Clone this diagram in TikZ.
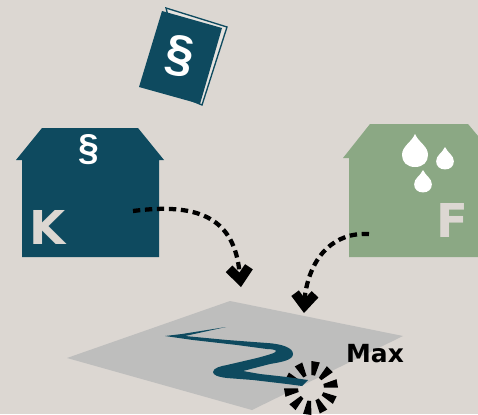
\documentclass[tikz,border=0pt]{standalone}
\usepackage{fontspec}
\setmainfont{DejaVu Sans}
\newfontfamily\parafont{Liberation Sans}
\usetikzlibrary{arrows.meta}
\definecolor{paper}{HTML}{DCD7D2}
\definecolor{petrol}{HTML}{0E4A5F}
\definecolor{sage}{HTML}{8BA884}
\definecolor{plane}{HTML}{BEBEBD}

\begin{document}
\begin{tikzpicture}[
    x=0.75pt, y=-0.75pt,
    letter/.style={font=\bfseries\fontsize{35}{35}\selectfont, text=paper, inner sep=0pt},
    para/.style={text=white, inner sep=0pt},
    flow/.style={line width=3.2pt, dash pattern=on 5.5pt off 3.5pt,
        -{Straight Barb[length=9pt, width=15pt, line width=7pt]}}
]
\fill[paper] (0,0) rectangle (478,414);
\useasboundingbox (0,0) rectangle (478,414);

% book
\draw[petrol, fill=paper!70!white, line width=1pt] (166,8) -- (227,27) -- (202,105) -- (190,100) -- cycle;
\fill[petrol] (162,11) -- (222,28) -- (200,104) -- (139,87) -- cycle;
\node[para, rotate=-9, font=\parafont\bfseries\fontsize{38}{38}\selectfont] (bookmark) at (180,56) {§};

% left house
\fill[petrol] (42,128) -- (138,128) -- (164,160) -- (159,160) -- (159,257) -- (22,257) -- (22,160) -- (16,160) -- cycle;
\node[para, font=\parafont\bfseries\fontsize{28}{28}\selectfont] (lawmark) at (89,150) {§};
\node[letter] (K) at (48,227) {K};

% right house
\fill[sage] (370,124) -- (468,124) -- (478,136) -- (478,257) -- (349,257) -- (349,158) -- (343,158) -- cycle;
\node[letter] (F) at (452,220) {F};
\foreach \px/\py/\ds in {415/134/1, 445/147/0.68, 423/170/0.68}
    \fill[white, shift={(\px,\py)}, scale=\ds] (0,0) .. controls (4,9) and (13,12) .. (13,21)
        .. controls (13,28) and (8,33) .. (0,33) .. controls (-8,33) and (-13,28) .. (-13,21)
        .. controls (-13,12) and (-4,9) .. (0,0) -- cycle;

% ground
\fill[plane] (230,301) -- (403,336) -- (252,410) -- (67,358) -- cycle;
\coordinate (peak) at (311,388);
\foreach \ang in {-80,-45,-10,27,62,98,134,170,-154,-118}
    \fill ([shift={(\ang-8:13)}]peak) -- ([shift={(\ang+8:13)}]peak)
        -- ([shift={(\ang+9:27)}]peak) -- ([shift={(\ang-9:27)}]peak) -- cycle;
\fill[petrol] (165,336) -- (182,334) -- (226,327) -- (185,336)
    -- (227,340) -- (267,343) .. controls (283,344) and (293,348) .. (293,354)
    .. controls (293,360) and (282,362) .. (270,364) -- (243,371) -- (260,374) -- (287,377) -- (308,380)
    -- (302,386) -- (287,384) -- (253,380) -- (227,378) .. controls (218,377) and (213,375) .. (213,372)
    .. controls (213,368) and (221,366) .. (227,365) -- (257,358)
    .. controls (268,355) and (276,353) .. (276,351) .. controls (276,350) and (272,349) .. (267,349)
    -- (237,345) -- (193,340) -- cycle;
\node[font=\bfseries\fontsize{18.7}{18.7}\selectfont, inner sep=0pt] (maxlabel) at (375,354) {Max};

% connectors
\coordinate (kstart) at (133,211);
\coordinate (ktip) at (241,287);
\coordinate (fstart) at (369,234);
\coordinate (ftip) at (304,313);
\draw[flow] (kstart) .. controls (195,203) and (232,216) .. (239,268) -- (ktip);
\draw[flow] (fstart) .. controls (335,232) and (311,255) .. (305,295) -- (ftip);

\end{tikzpicture}
\end{document}
